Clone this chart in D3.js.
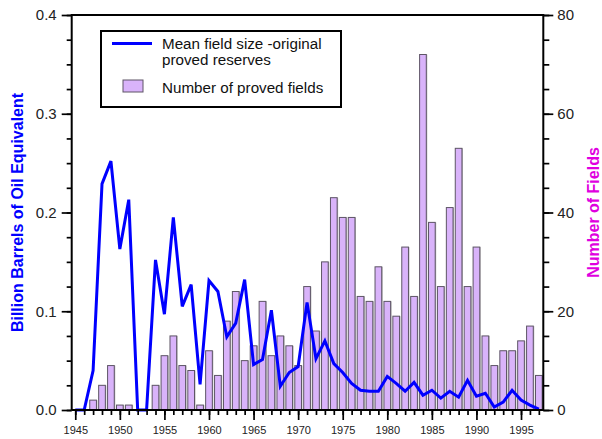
<!DOCTYPE html>
<html>
<head>
<meta charset="utf-8">
<script src="https://cdn.jsdelivr.net/npm/d3@7"></script>
<style>
  html, body { margin: 0; padding: 0; background: #fff; }
  svg { display: block; font-family: "Liberation Sans", Arial, sans-serif; }
</style>
</head>
<body>
<svg id="chart" width="602" height="439"></svg>
<script>
// Years covered by both series
const years = d3.range(1945, 1998);

// Mean field size of original proved reserves (billion barrels of oil equivalent)
const meanFieldSize = [
  0, 0, 0.040, 0.229, 0.252, 0.163, 0.213, 0, 0, 0.152,
  0.097, 0.195, 0.105, 0.127, 0.026, 0.131, 0.120, 0.074, 0.088, 0.132,
  0.046, 0.051, 0.101, 0.024, 0.038, 0.044, 0.109, 0.052, 0.070, 0.047,
  0.038, 0.027, 0.020, 0.019, 0.019, 0.034, 0.027, 0.019, 0.028, 0.015,
  0.020, 0.012, 0.019, 0.013, 0.030, 0.014, 0.017, 0.003, 0.008, 0.020,
  0.010, 0.005, 0.001
];

// Number of proved fields per year
const provedFields = [
  0, 0, 2, 5, 9, 1, 1, 0, 0, 5,
  11, 15, 9, 8, 1, 12, 7, 18, 24, 10,
  13, 22, 11, 15, 13, 9, 25, 16, 30, 43,
  39, 39, 23, 22, 29, 22, 19, 33, 23, 72,
  38, 25, 41, 53, 25, 33, 15, 9, 12, 12,
  14, 17, 7
];

// Axis ticks
const leftTicks = [0, 0.1, 0.2, 0.3, 0.4];
const rightTicks = [0, 20, 40, 60, 80];
const yearTicks = d3.range(1945, 2000, 5);

const legendLabels = ["Mean field size -original", "proved reserves", "Number of proved fields"];

const svg = d3.select("#chart");
const plot = { left: 71.7, right: 543.3, top: 15, bottom: 410 };

const x = d3.scaleLinear().domain([1944.6, 1997.5]).range([plot.left, plot.right]);
const yL = d3.scaleLinear().domain([0, 0.4]).range([plot.bottom, plot.top]);
const yR = d3.scaleLinear().domain([0, 80]).range([plot.bottom, plot.top]);

const step = x(1946) - x(1945);
const barW = step * 0.75;
const barData = years.map((yr, i) => ({ yr, v: provedFields[i] })).filter(d => d.v > 0);

// Bars: number of proved fields (right axis), with a soft grey edge on the right
const bars = svg.append("g");
bars.selectAll("rect.shadow")
  .data(barData)
  .join("rect")
  .attr("class", "shadow")
  .attr("x", d => x(d.yr) - barW / 2 + 1)
  .attr("y", d => yR(d.v))
  .attr("width", barW)
  .attr("height", d => yR(0) - yR(d.v))
  .attr("fill", "#b8b8b8");
bars.selectAll("rect.bar")
  .data(barData)
  .join("rect")
  .attr("class", "bar")
  .attr("x", d => x(d.yr) - barW / 2)
  .attr("y", d => yR(d.v))
  .attr("width", barW)
  .attr("height", d => yR(0) - yR(d.v))
  .attr("fill", "#d9b3fa")
  .attr("stroke", "#5e5566")
  .attr("stroke-width", 1);

// Line: mean field size (left axis)
const line = d3.line()
  .x((d, i) => x(years[i]))
  .y(d => yL(d));
svg.append("path")
  .datum(meanFieldSize)
  .attr("d", line)
  .attr("fill", "none")
  .attr("stroke", "#0000ff")
  .attr("stroke-width", 3)
  .attr("stroke-linejoin", "miter");

// Axes
function styleAxis(g, fontSize) {
  g.select(".domain").remove();
  g.selectAll(".tick line").attr("stroke", "#000").attr("stroke-width", 1.7);
  g.selectAll(".tick text").attr("fill", "#222").attr("font-size", fontSize)
    .attr("font-family", "'Liberation Sans', Arial, sans-serif");
}

// left minor + major
svg.append("g").attr("transform", `translate(${plot.left},0)`)
  .call(d3.axisLeft(yL).tickValues(d3.range(0, 0.4001, 0.025)).tickSize(5).tickFormat(""))
  .call(g => styleAxis(g, 15));
svg.append("g").attr("transform", `translate(${plot.left},0)`)
  .call(d3.axisLeft(yL).tickValues(leftTicks).tickSize(10).tickPadding(5).tickFormat(d3.format(".1f")))
  .call(g => styleAxis(g, 15));

// right minor + major
svg.append("g").attr("transform", `translate(${plot.right},0)`)
  .call(d3.axisRight(yR).tickValues(d3.range(0, 81, 5)).tickSize(6).tickFormat(""))
  .call(g => styleAxis(g, 15));
svg.append("g").attr("transform", `translate(${plot.right},0)`)
  .call(d3.axisRight(yR).tickValues(rightTicks).tickSize(10).tickPadding(4).tickFormat(d3.format("d")))
  .call(g => styleAxis(g, 15));

// bottom minor + major
svg.append("g").attr("transform", `translate(0,${plot.bottom})`)
  .call(d3.axisBottom(x).tickValues(years).tickSize(5).tickFormat(""))
  .call(g => styleAxis(g, 11));
svg.append("g").attr("transform", `translate(0,${plot.bottom})`)
  .call(d3.axisBottom(x).tickValues(yearTicks).tickSize(10).tickPadding(6).tickFormat(d3.format("d")))
  .call(g => styleAxis(g, 11));

// Frame lines
svg.append("path")
  .attr("d", `M${plot.left},${plot.bottom}V${plot.top}H${plot.right}V${plot.bottom}H${plot.left}`)
  .attr("fill", "none")
  .attr("stroke", "#000")
  .attr("stroke-width", 2);

// Axis titles
svg.append("text")
  .attr("transform", `translate(23,${(plot.top + plot.bottom) / 2}) rotate(-90)`)
  .attr("text-anchor", "middle")
  .attr("font-size", 16)
  .attr("font-weight", "bold")
  .attr("fill", "#0000ff")
  .text("Billion Barrels of Oil Equivalent");
svg.append("text")
  .attr("transform", `translate(599,${(plot.top + plot.bottom) / 2}) rotate(-90)`)
  .attr("text-anchor", "middle")
  .attr("font-size", 16)
  .attr("font-weight", "bold")
  .attr("fill", "#e000e0")
  .text("Number of Fields");

// Legend
const lg = svg.append("g");
lg.append("rect")
  .attr("x", 101).attr("y", 31).attr("width", 240).attr("height", 76)
  .attr("fill", "#fff").attr("stroke", "#000").attr("stroke-width", 2);
lg.append("line")
  .attr("x1", 112).attr("x2", 152).attr("y1", 43.5).attr("y2", 43.5)
  .attr("stroke", "#0000ff").attr("stroke-width", 3);
lg.append("rect")
  .attr("x", 123).attr("y", 80).attr("width", 20).attr("height", 12)
  .attr("fill", "#d9b3fa").attr("stroke", "#5e5566").attr("stroke-width", 1);
lg.selectAll("text.lab")
  .data(legendLabels)
  .join("text")
  .attr("class", "lab")
  .attr("x", 162)
  .attr("y", (d, i) => [48.5, 64.5, 92.7][i])
  .attr("font-size", 15.2)
  .attr("fill", "#111")
  .text(d => d);
</script>
</body>
</html>
